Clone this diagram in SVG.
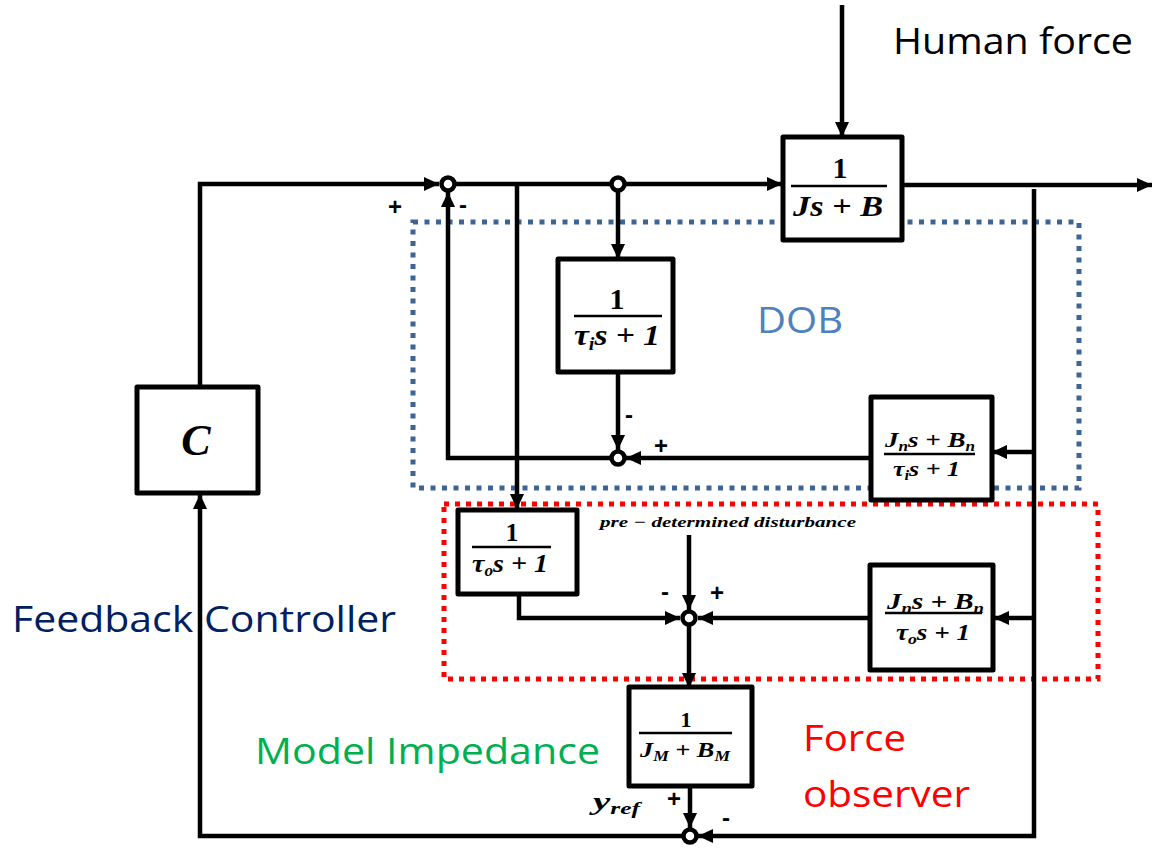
<svg xmlns="http://www.w3.org/2000/svg" width="1163" height="850" viewBox="0 0 1163 850">
<style>
.blk{fill:#fff;stroke:#000;stroke-width:5;stroke-linejoin:round}
.ln{fill:none;stroke:#000;stroke-width:4.5}
.fl{stroke:#000;stroke-width:2.5}
.jn{fill:#fff;stroke:#000;stroke-width:4.5}
.m{font-family:"Liberation Serif","DejaVu Serif",serif;font-style:italic;font-weight:bold;fill:#000}
.mu{font-family:"Liberation Serif","DejaVu Serif",serif;font-weight:bold;fill:#000;text-anchor:middle}
.lab{font-family:"Open Sans","Liberation Sans",sans-serif;font-size:36px}
.sg{font-family:"Liberation Sans",sans-serif;font-weight:bold;font-size:24px;fill:#000;text-anchor:middle}
</style>
<defs>
<marker id="ar" markerUnits="userSpaceOnUse" markerWidth="16" markerHeight="16" refX="15" refY="8" orient="auto">
<path d="M0,1 L15,8 L0,15 z" fill="#000"/>
</marker>
</defs>
<!-- group boxes -->
<rect id="dob-box" x="413" y="222" width="666" height="266" fill="none" stroke="#3e6496" stroke-width="5" stroke-dasharray="5 6.5"/>
<rect id="fo-box" x="444" y="504" width="654" height="175" fill="none" stroke="#ff0000" stroke-width="5" stroke-dasharray="5 6"/>
<g id="connectors">
<path class="ln" d="M200,387 V184 H439" marker-end="url(#ar)"/>
<path class="ln" d="M455,184 H782" marker-end="url(#ar)"/>
<path class="ln" d="M842,5 V137" marker-end="url(#ar)"/>
<path class="ln" d="M902,185 H1152" marker-end="url(#ar)"/>
<path class="ln" d="M618,190 V259" marker-end="url(#ar)"/>
<path class="ln" d="M517,184 V509" marker-end="url(#ar)"/>
<path class="ln" d="M618,372 V450" marker-end="url(#ar)"/>
<path class="ln" d="M871,458 H626" marker-end="url(#ar)"/>
<path class="ln" d="M611,458 H448 V192" marker-end="url(#ar)"/>
<path class="ln" d="M1034,189 V836 H698" marker-end="url(#ar)"/>
<path class="ln" d="M1034,452 H992" marker-end="url(#ar)"/>
<path class="ln" d="M1034,618 H994" marker-end="url(#ar)"/>
<path class="ln" d="M519,594 V618 H680" marker-end="url(#ar)"/>
<path class="ln" d="M689,535 V610" marker-end="url(#ar)"/>
<path class="ln" d="M870,618 H698" marker-end="url(#ar)"/>
<path class="ln" d="M689,626 V688" marker-end="url(#ar)"/>
<path class="ln" d="M690,786 V828" marker-end="url(#ar)"/>
<path class="ln" d="M682,836 H200 V494" marker-end="url(#ar)"/>
</g>
<g id="junctions">
<circle id="j1" class="jn" cx="448" cy="184" r="6.5"/>
<circle id="j2" class="jn" cx="618" cy="184" r="6.5"/>
<circle id="j3" class="jn" cx="618" cy="458" r="6.5"/>
<circle id="j4" class="jn" cx="689" cy="618" r="6.5"/>
<circle id="j5" class="jn" cx="690" cy="836" r="6.5"/>
</g>
<g id="plant">
<rect class="blk" x="783" y="137" width="119" height="103"/>
<text class="mu" x="840" y="178" font-size="30">1</text>
<line class="fl" x1="791" y1="186" x2="887" y2="186"/>
<text class="m" x="793" y="216" font-size="30" textLength="90" lengthAdjust="spacingAndGlyphs">Js + B</text>
</g>
<g id="q-inner">
<rect class="blk" x="558" y="259" width="115" height="113"/>
<text class="mu" x="617" y="309" font-size="30">1</text>
<line class="fl" x1="574" y1="316" x2="662" y2="316"/>
<text class="m" x="574" y="345" font-size="30" textLength="86" lengthAdjust="spacingAndGlyphs">τ<tspan font-size="18" dy="5">i</tspan><tspan dy="-5">s + 1</tspan></text>
</g>
<g id="nominal-inner">
<rect class="blk" x="871" y="397" width="121" height="103"/>
<text class="m" x="885" y="447" font-size="22" textLength="90" lengthAdjust="spacingAndGlyphs">J<tspan font-size="14" dy="4">n</tspan><tspan dy="-4">s + B</tspan><tspan font-size="14" dy="4">n</tspan></text>
<line class="fl" x1="884" y1="454" x2="975" y2="454"/>
<text class="m" x="893" y="476" font-size="22" textLength="67" lengthAdjust="spacingAndGlyphs">τ<tspan font-size="14" dy="4">i</tspan><tspan dy="-4">s + 1</tspan></text>
</g>
<g id="q-outer">
<rect class="blk" x="458" y="510" width="119" height="84"/>
<text class="mu" x="512" y="541" font-size="26">1</text>
<line class="fl" x1="472" y1="547" x2="551" y2="547"/>
<text class="m" x="472" y="572" font-size="26" textLength="76" lengthAdjust="spacingAndGlyphs">τ<tspan font-size="16" dy="4">o</tspan><tspan dy="-4">s + 1</tspan></text>
</g>
<g id="nominal-outer">
<rect class="blk" x="870" y="565" width="123" height="105"/>
<text class="m" x="887" y="609" font-size="23" textLength="97" lengthAdjust="spacingAndGlyphs">J<tspan font-size="15" dy="4">n</tspan><tspan dy="-4">s + B</tspan><tspan font-size="15" dy="4">n</tspan></text>
<line class="fl" x1="885" y1="613" x2="982" y2="613"/>
<text class="m" x="896" y="640" font-size="23" textLength="74" lengthAdjust="spacingAndGlyphs">τ<tspan font-size="15" dy="4">o</tspan><tspan dy="-4">s + 1</tspan></text>
</g>
<g id="model-impedance">
<rect class="blk" x="629" y="687" width="123" height="99"/>
<text class="mu" x="686" y="727" font-size="22">1</text>
<line class="fl" x1="639" y1="733" x2="732" y2="733"/>
<text class="m" x="640" y="757" font-size="21" textLength="90" lengthAdjust="spacingAndGlyphs">J<tspan font-size="14" dy="4">M</tspan><tspan dy="-4"> + B</tspan><tspan font-size="14" dy="4">M</tspan></text>
</g>
<g id="controller">
<rect class="blk" x="137" y="387" width="121" height="106"/>
<text class="m" x="196" y="455" font-size="44" text-anchor="middle">C</text>
</g>
<g id="labels">
<text class="lab" x="893" y="54" textLength="240" lengthAdjust="spacingAndGlyphs" fill="#000">Human force</text>
<text class="lab" x="757" y="333" textLength="86" lengthAdjust="spacingAndGlyphs" fill="#4f81bd">DOB</text>
<text class="lab" x="12" y="632" textLength="384" lengthAdjust="spacingAndGlyphs" fill="#002060">Feedback Controller</text>
<text class="lab" x="255" y="764" textLength="345" lengthAdjust="spacingAndGlyphs" fill="#00b050">Model Impedance</text>
<text class="lab" x="803" y="751" textLength="103" lengthAdjust="spacingAndGlyphs" fill="#ff0000">Force</text>
<text class="lab" x="803" y="807" textLength="167" lengthAdjust="spacingAndGlyphs" fill="#ff0000">observer</text>
<text class="m" x="600" y="527" font-size="15" textLength="256" lengthAdjust="spacingAndGlyphs">pre − determined disturbance</text>
<text class="m" x="593" y="810" font-size="26" textLength="47" lengthAdjust="spacingAndGlyphs">y<tspan font-size="17" dy="4">ref</tspan></text>
<text class="sg" x="395" y="215">+</text>
<text class="sg" x="463" y="213">-</text>
<text class="sg" x="629" y="423">-</text>
<text class="sg" x="661" y="454">+</text>
<text class="sg" x="665" y="600">-</text>
<text class="sg" x="717" y="601">+</text>
<text class="sg" x="674" y="807">+</text>
<text class="sg" x="726" y="826">-</text>
</g>
</svg>
